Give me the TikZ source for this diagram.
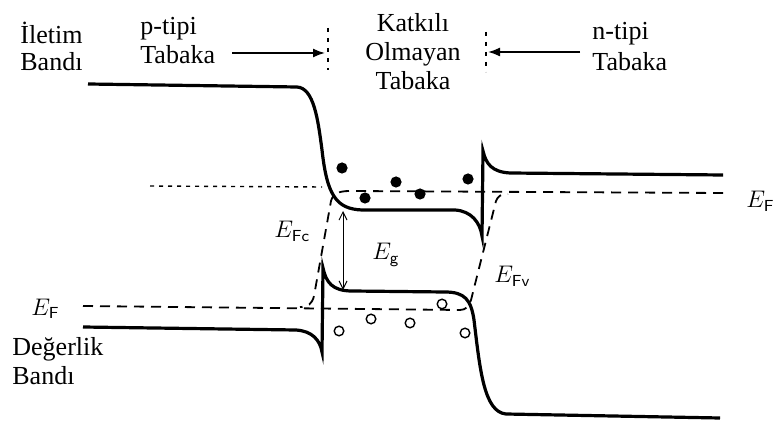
\documentclass[tikz,border=0pt]{standalone}
\usepackage{fontspec}
\setmainfont{Liberation Serif}
\usepackage{amsmath}
\usetikzlibrary{arrows.meta}

\begin{document}
\begin{tikzpicture}[x=0.5pt,y=-0.5pt,
  band/.style={line width=1.6pt},
  qfermi/.style={line width=0.9pt,dash pattern=on 5pt off 3.5pt},
  fermidot/.style={line width=0.7pt,dash pattern=on 2pt off 2.5pt},
  wall/.style={line width=0.6pt,dash pattern=on 2pt off 3pt},
  lbl/.style={font=\fontsize{13}{14.5}\selectfont,inner sep=0pt},
  elbl/.style={font=\fontsize{12}{14}\selectfont,inner sep=0pt,anchor=base west}]
  \useasboundingbox (0,0) rectangle (774,421);

  \draw[band] (88,84) -- (297,87) .. controls (314,88) and (318,120) .. (322,150)
    .. controls (327,195) and (336,209) .. (362,210) -- (455,210)
    .. controls (471,211) and (480,222) .. (482,236) -- (483,151)
    .. controls (486,164) and (492,172) .. (510,173) -- (723,175);
  \draw[band] (83,327) -- (296,330) .. controls (312,331) and (320,340) .. (322,352)
    -- (323,268) .. controls (326,282) and (332,291) .. (352,291) -- (445,292)
    .. controls (465,292) and (471,300) .. (474,320)
    .. controls (480,370) and (484,412) .. (506,414) -- (720,418);

  \draw[fermidot] (150,186) -- (322,187);
  \draw[qfermi] (723,193) -- (350,191) .. controls (338,191) and (333,194) .. (331,201)
    -- (314,296) .. controls (312,304) and (308,307) .. (300,307);
  \draw[qfermi] (83,306) -- (460,310) .. controls (466,310) and (469,306) .. (471,300)
    -- (496,201) .. controls (498,196) and (501,194) .. (508,194);

  \foreach \px/\py in {342/168, 365/198, 396/182, 420/194, 468/179}{
    \fill (\px,\py) circle[radius=2.8pt];
  }
  \foreach \px/\py in {339/331, 371/319, 410/323, 442/304, 465/333}{
    \draw[line width=0.7pt,fill=white] (\px,\py) circle[radius=2.4pt];
  }

  \coordinate (cbmid) at (343,211);
  \coordinate (vbmid) at (343,290);
  \draw[line width=0.5pt,{Straight Barb[length=4pt,width=4pt]}-{Straight Barb[length=4pt,width=4pt]}] (cbmid) -- (vbmid);

  \node[lbl,anchor=north west,align=left] (ileti) at (20,22) {İletim\\[-1pt]Bandı};
  \node[lbl,anchor=north west,align=left] (ptip) at (140,17) {p-tipi\\Tabaka};
  \node[lbl,anchor=north,align=center] (katk) at (413,13) {Katkılı\\Olmayan\\Tabaka};
  \node[lbl,anchor=north west,align=left] (ntip) at (592,22) {n-tipi\\[1pt]Tabaka};
  \node[lbl,anchor=north west,align=left] (degr) at (12,337) {Değerlik\\Bandı};

  \coordinate (pwtop) at (328,28);
  \coordinate (pwbot) at (328,70);
  \coordinate (nwtop) at (486,32);
  \coordinate (nwbot) at (486,72);
  \draw[wall] (pwtop) -- (pwbot);
  \draw[wall] (nwtop) -- (nwbot);
  \coordinate (pin) at (232,53);
  \coordinate (pend) at (325,53);
  \coordinate (nin) at (580,52);
  \coordinate (nend) at (488,52);
  \draw[line width=0.8pt,-{Latex[length=6pt,width=4.5pt]}] (pin) -- (pend);
  \draw[line width=0.8pt,-{Latex[length=6pt,width=4.5pt]}] (nin) -- (nend);

  \node[elbl] (efr) at (746,208) {$E_{\mathsf{F}}$};
  \node[elbl] (efl) at (31,315) {$E_{\mathsf{F}}$};
  \node[elbl] (efc) at (274,238) {$E_{\mathsf{Fc}}$};
  \node[elbl] (egap) at (372,260) {$E_{\mathsf{g}}$};
  \node[elbl] (efv) at (494,283) {$E_{\mathsf{Fv}}$};
\end{tikzpicture}
\end{document}
